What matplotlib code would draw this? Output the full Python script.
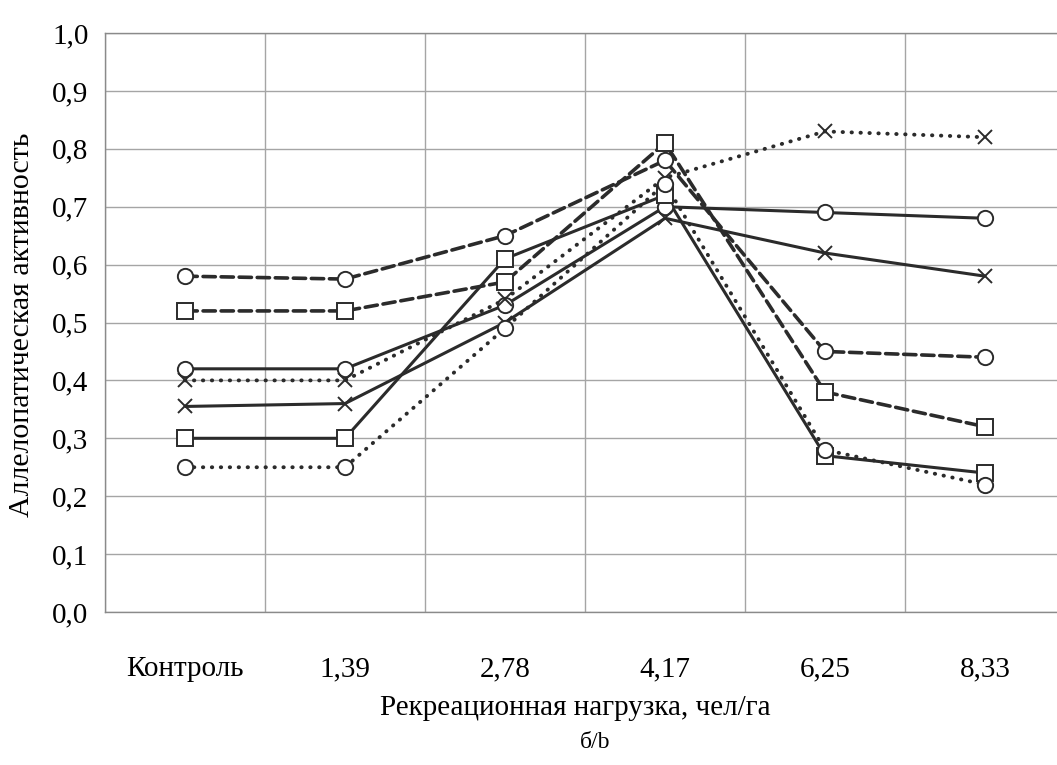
import numpy as np
import matplotlib
matplotlib.use('Agg')
import matplotlib.pyplot as plt
from matplotlib.ticker import FixedLocator, FixedFormatter

plt.rcParams['font.family'] = ['Liberation Serif', 'DejaVu Serif']

# categories of recreational load
categories = ['Контроль', '1,39', '2,78', '4,17', '6,25', '8,33']

# series (line style + marker)
dashed_circle = [0.58, 0.575, 0.65, 0.78, 0.45, 0.44]
dashed_square = [0.52, 0.52, 0.57, 0.81, 0.38, 0.32]
solid_circle = [0.42, 0.42, 0.53, 0.70, 0.69, 0.68]
dotted_x = [0.40, 0.40, 0.54, 0.75, 0.83, 0.82]
solid_x = [0.355, 0.36, 0.50, 0.68, 0.62, 0.58]
solid_square = [0.30, 0.30, 0.61, 0.72, 0.27, 0.24]
dotted_circle = [0.25, 0.25, 0.49, 0.74, 0.28, 0.22]

y_ticks = [0.0, 0.1, 0.2, 0.3, 0.4, 0.5, 0.6, 0.7, 0.8, 0.9, 1.0]
y_labels = ['0,0', '0,1', '0,2', '0,3', '0,4', '0,5', '0,6', '0,7', '0,8', '0,9', '1,0']

W, H = 1057, 765
fig = plt.figure(figsize=(W / 100, H / 100), dpi=100)
ax = fig.add_axes([105 / W, 1 - 612 / H, 960 / W, (612 - 33) / H])

x = np.arange(len(categories))
line_color = '#2b2b2b'
dashed = (0, (3.4, 1.6))
dotted = (0, (0.1, 2.2))

series = [
    (dashed_circle, dashed, 'o', 2.6),
    (dashed_square, dashed, 's', 2.6),
    (solid_circle, '-', 'o', 2.2),
    (dotted_x, dotted, 'x', 2.8),
    (solid_x, '-', 'x', 2.2),
    (solid_square, '-', 's', 2.2),
    (dotted_circle, dotted, 'o', 2.8),
]

for vals, ls, mk, lw in series:
    ax.plot(x, vals, linestyle=ls, color=line_color, linewidth=lw,
            dash_capstyle='round', solid_capstyle='butt', zorder=3)
for vals, ls, mk, lw in series:
    if mk == 'x':
        ax.plot(x, vals, linestyle='none', marker='x', markersize=10,
                markeredgewidth=1.4, color=line_color, zorder=4)
    else:
        ax.plot(x, vals, linestyle='none', marker=mk, markersize=11,
                markerfacecolor='white', markeredgecolor=line_color,
                markeredgewidth=1.4, zorder=4)

ax.set_xlim(-0.5, len(categories) - 0.5)
ax.set_ylim(0, 1)

ax.xaxis.set_major_locator(FixedLocator(x))
ax.xaxis.set_major_formatter(FixedFormatter(categories))
ax.xaxis.set_minor_locator(FixedLocator(np.arange(-0.5, len(categories), 1.0)))
ax.yaxis.set_major_locator(FixedLocator(y_ticks))
ax.yaxis.set_major_formatter(FixedFormatter(y_labels))

ax.grid(which='minor', axis='x', color='#a5a5a5', linewidth=1.0)
ax.grid(which='major', axis='y', color='#a5a5a5', linewidth=1.0)
ax.set_axisbelow(True)

ax.tick_params(axis='x', which='both', length=0, pad=32, labelsize=21)
ax.tick_params(axis='y', which='both', length=0, pad=12, labelsize=21)

for s in ax.spines.values():
    s.set_color('#8a8a8a')
    s.set_linewidth(1.0)

fig.text(22 / W, 1 - 325 / H, 'Аллелопатическая активность', rotation=90,
         ha='center', va='center', fontsize=21.5)
fig.text(575 / W, 1 - 708 / H, 'Рекреационная нагрузка, чел/га',
         ha='center', va='center', fontsize=21)
fig.text(595 / W, 1 - 742 / H, 'б/b', ha='center', va='center', fontsize=17)

fig.savefig('out.png', dpi=100)
